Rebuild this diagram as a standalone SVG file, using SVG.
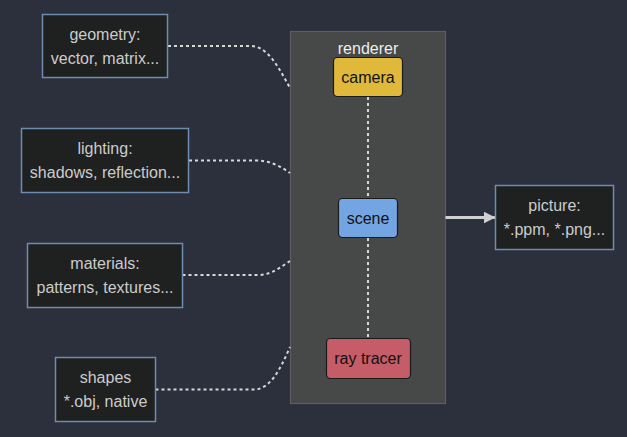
<svg xmlns="http://www.w3.org/2000/svg" width="627" height="437" viewBox="0 0 627 437">
<defs>
<style>
.bg{fill:#2c303d}
.ext rect{fill:#1f2020;stroke:#6e8bb0;stroke-width:1.5}
.ext text{fill:#cccccc;font-family:"Liberation Sans",Arial,sans-serif;font-size:16px;text-anchor:middle;dominant-baseline:central}
.inner rect{stroke:#1a1a1a;stroke-width:1.2}
.inner text{fill:#111111;font-family:"Liberation Sans",Arial,sans-serif;font-size:16px;text-anchor:middle;dominant-baseline:central}
.dot{fill:none;stroke:#d8d8d8;stroke-width:2;stroke-dasharray:3 3}
</style>
<marker id="arr" viewBox="0 0 12 12" refX="12" refY="6" markerWidth="12" markerHeight="12" markerUnits="userSpaceOnUse" orient="auto">
<path d="M0,0 L12,6 L0,12 z" fill="#d0d0d0"/>
</marker>
</defs>
<rect class="bg" x="0" y="0" width="627" height="437"/>
<g id="renderer">
<rect x="290.5" y="31.5" width="155" height="372" fill="#474848" stroke="#5c5e62" stroke-width="1.2"/>
<text x="368" y="48" fill="#eeeeee" font-family="'Liberation Sans',Arial,sans-serif" font-size="16" text-anchor="middle" dominant-baseline="central">renderer</text>
</g>
<g id="connectors">
<path class="dot" d="M168,46 H250 C266,46 276,62 290,88"/>
<path class="dot" d="M189,160.5 H255 C270,160.5 280,166 290,173"/>
<path class="dot" d="M182.5,275 H258 C272,275 282,266 290,261"/>
<path class="dot" d="M155.5,389.5 H254 C270,389.5 280,370 290,347"/>
<path class="dot" d="M368,97 V198"/>
<path class="dot" d="M368,238 V338"/>
<path d="M445.5,217.5 H495.5" fill="none" stroke="#d0d0d0" stroke-width="3" marker-end="url(#arr)"/>
</g>
<g id="geometry" class="ext">
<rect x="42.5" y="14.5" width="125" height="63"/>
<text x="105" y="34">geometry:</text>
<text x="105" y="58">vector, matrix...</text>
</g>
<g id="lighting" class="ext">
<rect x="21.5" y="128.5" width="167" height="64"/>
<text x="105" y="148.5">lighting:</text>
<text x="105" y="172.5">shadows, reflection...</text>
</g>
<g id="materials" class="ext">
<rect x="27.5" y="243.5" width="155" height="64"/>
<text x="105" y="263">materials:</text>
<text x="105" y="287">patterns, textures...</text>
</g>
<g id="shapes" class="ext">
<rect x="55.5" y="357.5" width="100" height="64"/>
<text x="105.5" y="377.5">shapes</text>
<text x="105.5" y="401.5">*.obj, native</text>
</g>
<g id="picture" class="ext">
<rect x="495.5" y="185.5" width="118" height="64"/>
<text x="554.5" y="205.5">picture:</text>
<text x="554.5" y="229.5">*.ppm, *.png...</text>
</g>
<g id="camera" class="inner">
<rect x="333.5" y="57.5" width="69" height="39" rx="4" fill="#e0b93a"/>
<text x="368" y="77">camera</text>
</g>
<g id="scene" class="inner">
<rect x="338.5" y="198.5" width="59" height="39" rx="4" fill="#74a5e3"/>
<text x="368" y="218">scene</text>
</g>
<g id="raytracer" class="inner">
<rect x="326.5" y="338.5" width="84" height="40" rx="4" fill="#c55d68"/>
<text x="368" y="358.5">ray tracer</text>
</g>
</svg>
